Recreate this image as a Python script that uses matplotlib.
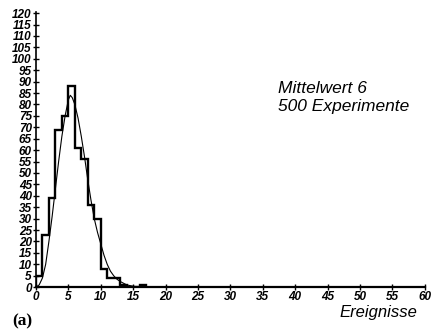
import matplotlib
matplotlib.use("Agg")
import matplotlib.pyplot as plt

# Histogramm: Anzahl je Ereigniszahl (Klassenbreite 1)
kanten = list(range(0, 18))
anzahl = [5, 23, 39, 69, 75, 88, 61, 56, 36, 30, 8, 4, 4, 1, 0, 0, 1]

# theoretische Kurve
kurve_x = [0, 0.5, 1, 1.5, 2, 2.5, 3, 3.5, 4, 4.5, 5, 5.3, 5.6, 6, 6.5, 7, 7.5,
           8, 8.5, 9, 9.5, 10, 10.5, 11, 11.5, 12, 12.5, 13, 14, 15, 16]
kurve_y = [0, 1, 4, 10, 20, 31, 43, 55, 66, 75, 82, 84, 83, 80, 74, 66, 57,
           47, 38, 30, 24, 19, 14, 10, 7, 5, 3.5, 2.5, 1, 0.4, 0]

x_ticks = list(range(0, 61, 5))
y_ticks = list(range(0, 121, 5))

schrift = ['Liberation Sans Narrow', 'Liberation Sans', 'DejaVu Sans']

fig = plt.figure(figsize=(4.33, 3.32), dpi=100)
ax = fig.add_axes([0.083, 0.135, 0.898, 0.829])

ax.stairs(anzahl, kanten, baseline=0, color='black', linewidth=1.7)
ax.plot(kurve_x, kurve_y, color='black', linewidth=0.8)

ax.set_xlim(0, 60)
ax.set_ylim(0, 120.5)
ax.set_xticks(x_ticks)
ax.set_yticks(y_ticks)
ax.set_xticklabels([str(t) for t in x_ticks], family=schrift, style='italic',
                   fontweight='bold', fontsize=8.5)
ax.set_yticklabels([str(t) for t in y_ticks], family=schrift, style='italic',
                   fontweight='bold', fontsize=8.5)
ax.tick_params(axis='both', direction='inout', length=5, width=1, pad=0.5)

for s in ['top', 'right']:
    ax.spines[s].set_visible(False)
ax.spines['left'].set_linewidth(1.2)
ax.spines['bottom'].set_linewidth(1.6)

fig.text(0.642, 0.755, 'Mittelwert 6\n500 Experimente',
         family=['Liberation Sans', 'DejaVu Sans'], style='italic', fontsize=12.5,
         linespacing=1.25, va='top', ha='left')

fig.text(0.965, 0.035, 'Ereignisse', family=['Liberation Sans', 'DejaVu Sans'],
         style='italic', fontsize=12, ha='right', va='bottom')
fig.text(0.028, 0.008, '(a)', family=['Liberation Serif', 'DejaVu Serif'],
         fontweight='bold', fontsize=12.5, ha='left', va='bottom')

fig.savefig('out.png', dpi=100)
